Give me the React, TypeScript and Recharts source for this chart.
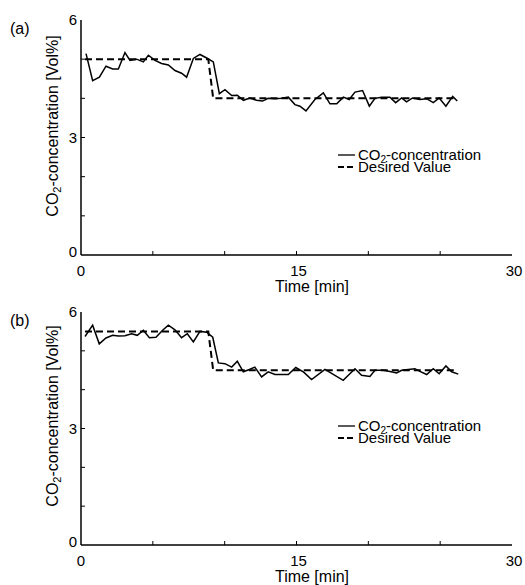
import React from 'react';
import { LineChart, Line, XAxis, YAxis, Legend, Label } from 'recharts';

// ---- Data ----
const timeA = [0.35, 0.81, 1.28, 1.74, 2.2, 2.6, 3.06, 3.41, 3.87, 4.34, 4.69, 5.15, 5.61, 6.08, 6.54, 7.0, 7.35, 7.82, 8.28, 8.75, 9.21, 9.63, 10.02, 10.49, 10.88, 11.3, 11.76, 12.22, 12.64, 13.03, 13.5, 13.96, 14.43, 14.89, 15.24, 15.66, 16.28, 16.87, 17.33, 17.8, 18.26, 18.67, 19.07, 19.6, 20.07, 20.46, 20.93, 21.5, 21.9, 22.32, 22.66, 23.08, 23.59, 24.06, 24.52, 24.93, 25.4, 25.87, 26.19];
const co2A = [5.14, 4.45, 4.54, 4.82, 4.75, 4.75, 5.17, 4.97, 5.0, 4.93, 5.1, 4.97, 4.89, 4.85, 4.71, 4.64, 4.54, 5.02, 5.12, 5.03, 4.93, 4.12, 4.22, 4.07, 4.08, 3.95, 4.01, 3.95, 3.93, 4.0, 3.99, 4.0, 4.03, 3.84, 3.8, 3.68, 3.97, 4.14, 3.86, 3.86, 4.03, 3.97, 4.16, 4.2, 3.8, 4.0, 4.03, 4.03, 3.89, 4.01, 3.91, 4.01, 3.97, 3.99, 3.89, 4.01, 3.8, 4.05, 3.93];
const setTimeA = [0.28, 8.86, 9.2, 26.2];
const setA = [5.0, 5.0, 4.0, 4.0];

const timeB = [0.28, 0.81, 1.27, 1.74, 2.2, 2.6, 3.06, 3.52, 3.92, 4.34, 4.76, 5.22, 5.68, 6.08, 6.54, 7.0, 7.4, 7.82, 8.28, 8.75, 9.17, 9.56, 10.02, 10.49, 10.88, 11.3, 11.72, 12.1, 12.57, 13.03, 13.5, 13.96, 14.43, 14.95, 15.5, 16.05, 16.98, 18.25, 19.07, 19.53, 20.11, 20.46, 21.04, 21.5, 21.97, 22.32, 22.78, 23.24, 23.59, 24.06, 24.52, 24.93, 25.4, 25.8, 26.26];
const co2B = [5.37, 5.66, 5.18, 5.33, 5.4, 5.38, 5.39, 5.44, 5.4, 5.53, 5.34, 5.35, 5.53, 5.66, 5.54, 5.34, 5.44, 5.23, 5.5, 5.48, 5.35, 4.69, 4.67, 4.58, 4.73, 4.46, 4.52, 4.58, 4.33, 4.46, 4.39, 4.39, 4.39, 4.57, 4.45, 4.26, 4.52, 4.24, 4.54, 4.37, 4.34, 4.5, 4.5, 4.47, 4.43, 4.5, 4.52, 4.54, 4.47, 4.39, 4.54, 4.41, 4.61, 4.46, 4.4];
const setTimeB = [0.28, 8.86, 9.2, 26.2];
const setB = [5.5, 5.5, 4.5, 4.5];

const xTicks = [0, 5, 10, 15, 20, 25, 30];
const xTickLabels: Record<number, string> = { 0: '0', 15: '15', 30: '30' };
const yTicks = [0, 1, 2, 3, 4, 5, 6];
const yTickLabels: Record<number, string> = { 0: '0', 3: '3', 6: '6' };
const panelLabels = ['(a)', '(b)'];
const seriesNames = ['CO2-concentration', 'Desired Value'];
const xTitle = 'Time [min]';

const FONT = '"Liberation Sans", Arial, sans-serif';

const toRows = (t: number[], v: number[]) => t.map((x, i) => ({ t: x, v: v[i] }));

const XTick = (props: any) => {
  const { x, y, payload } = props;
  const val = payload.value;
  const lbl = xTickLabels[val];
  return (
    <g>
      {val > 0 && val < 30 && <line x1={x} x2={x} y1={y} y2={y - 4} stroke="#000" strokeWidth={1} />}
      {lbl && (
        <text x={x + (val > 0 ? 2 : 0)} y={y + 21} textAnchor="middle" fontSize={15} fontFamily={FONT} fill="#000">
          {lbl}
        </text>
      )}
    </g>
  );
};

const YTick = (props: any) => {
  const { x, y, payload } = props;
  const val = payload.value;
  const lbl = yTickLabels[val];
  return (
    <g>
      {val > 0 && val < 6 && <line x1={x} x2={x + 4} y1={y} y2={y} stroke="#000" strokeWidth={1} />}
      {lbl && (
        <text x={x - 4} y={y + (val === 0 ? 2 : 5)} textAnchor="end" fontSize={15} fontFamily={FONT} fill="#000">
          {lbl}
        </text>
      )}
    </g>
  );
};

const LegendBox = () => (
  <svg width={180} height={30} style={{ display: 'block', overflow: 'visible' }}>
    <line x1={0} x2={17} y1={6} y2={6} stroke="#000" strokeWidth={1.3} />
    <text x={20} y={11} fontSize={15} fontFamily={FONT} fill="#000">
      CO<tspan dy={3} fontSize={10}>2</tspan>
      <tspan dy={-3}>-concentration</tspan>
    </text>
    <line x1={0} x2={17} y1={18} y2={18} stroke="#000" strokeWidth={2} strokeDasharray="6 3" />
    <text x={20} y={23} fontSize={15} fontFamily={FONT} fill="#000">
      {seriesNames[1]}
    </text>
  </svg>
);

type PanelProps = {
  solid: { t: number; v: number }[];
  dashed: { t: number; v: number }[];
  panel: string;
  marginTop: number;
  legendTop: number;
  titleCy: number;
};

const Panel = ({ solid, dashed, panel, marginTop, legendTop, titleCy }: PanelProps) => (
  <LineChart width={525} height={295} margin={{ top: marginTop, right: 13, left: 0, bottom: 0 }}>
    <XAxis
      xAxisId={0}
      type="number"
      dataKey="t"
      domain={[0, 30]}
      ticks={xTicks}
      interval={0}
      height={40}
      tickSize={0}
      tickMargin={0}
      tickLine={false}
      tick={<XTick />}
      axisLine={{ stroke: '#000', strokeWidth: 1.5 }}
      allowDataOverflow
    >
      <Label
        content={(p: any) => (
          <text x={312} y={(p.viewBox?.y ?? 0) + 37} textAnchor="middle" fontSize={16} fontFamily={FONT} fill="#000">
            {xTitle}
          </text>
        )}
      />
    </XAxis>
    <XAxis xAxisId="top" orientation="top" type="number" domain={[0, 30]} height={0} tick={false} tickLine={false} axisLine={{ stroke: '#8a8a8a', strokeWidth: 1.5 }} />
    <YAxis
      yAxisId={0}
      type="number"
      domain={[0, 6]}
      ticks={yTicks}
      interval={0}
      width={81}
      tickSize={0}
      tickMargin={0}
      tickLine={false}
      tick={<YTick />}
      axisLine={{ stroke: '#000', strokeWidth: 1.5 }}
      allowDataOverflow
    >
      <Label
        content={() => (
          <g>
            <text x={10} y={marginTop + 14} fontSize={16} fontFamily={FONT} fill="#000">
              {panel}
            </text>
            <text transform={`translate(58, ${titleCy}) rotate(-90)`} textAnchor="middle" fontSize={16} fontFamily={FONT} fill="#000">
              CO<tspan dy={3} fontSize={11}>2</tspan>
              <tspan dy={-3}>-concentration [Vol%]</tspan>
            </text>
          </g>
        )}
      />
    </YAxis>
    <YAxis yAxisId="right" orientation="right" type="number" domain={[0, 6]} width={0} tick={false} tickLine={false} axisLine={{ stroke: '#8a8a8a', strokeWidth: 1.5 }} />
    <Legend
      layout="vertical"
      align="center"
      verticalAlign="middle"
      content={() => <LegendBox />}
      wrapperStyle={{ position: 'absolute', left: 338, top: legendTop, width: 180, height: 30 }}
    />
    <Line
      data={solid}
      dataKey="v"
      name={seriesNames[0]}
      xAxisId={0}
      yAxisId={0}
      type="linear"
      stroke="#000"
      strokeWidth={1.5}
      dot={false}
      isAnimationActive={false}
    />
    <Line
      data={dashed}
      dataKey="v"
      name={seriesNames[1]}
      xAxisId={0}
      yAxisId={0}
      type="linear"
      stroke="#000"
      strokeWidth={2}
      strokeDasharray="7 4"
      dot={false}
      isAnimationActive={false}
    />
  </LineChart>
);

export default function App() {
  return (
    <div style={{ position: 'absolute', left: 0, top: 0, width: 525, height: 585, background: '#fff', overflow: 'hidden' }}>
      <div style={{ position: 'absolute', left: 0, top: 0 }}>
        <Panel solid={toRows(timeA, co2A)} dashed={toRows(setTimeA, setA)} panel={panelLabels[0]} marginTop={20} legendTop={149} titleCy={126} />
      </div>
      <div style={{ position: 'absolute', left: 0, top: 290 }}>
        <Panel solid={toRows(timeB, co2B)} dashed={toRows(setTimeB, setB)} panel={panelLabels[1]} marginTop={22} legendTop={130} titleCy={126} />
      </div>
    </div>
  );
}
